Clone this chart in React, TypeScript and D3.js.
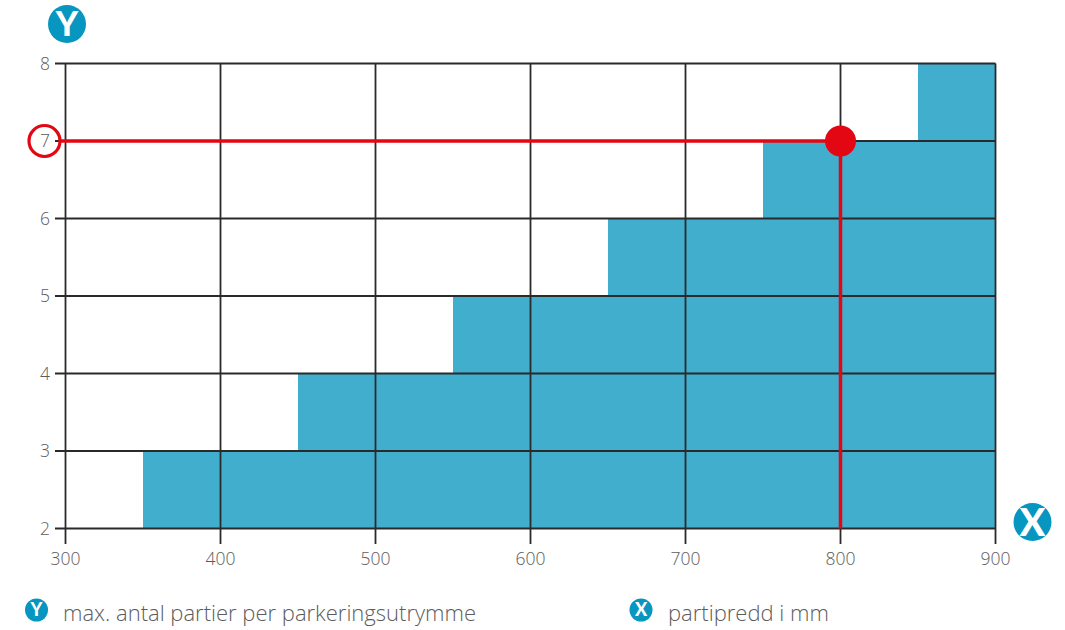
import React from "react";
import * as d3 from "d3";

const stepWidths = [350, 450, 550, 650, 750, 850, 900];
const stepCounts = [3, 4, 5, 6, 7, 8, 8];
const xTicks = [300, 400, 500, 600, 700, 800, 900];
const yTicks = [2, 3, 4, 5, 6, 7, 8];
const selectedX = 800;
const selectedY = 7;
const yLegend = "max. antal partier per parkeringsutrymme";
const xLegend = "partipredd i mm";

const FONT = "'Open Sans', sans-serif";
const BADGE_FONT = "Lato, sans-serif";
const BLUE = "#41AECE";
const BADGE = "#0796BF";
const RED = "#E30613";
const INK = "#2a2a2a";
const TEXT = "#5c5c5c";

const x = d3.scaleLinear().domain([300, 900]).range([65.5, 995.5]);
const y = d3.scaleLinear().domain([2, 8]).range([528.5, 63.5]);

function Badge({ cx, cy, r, label, size }: { cx: number; cy: number; r: number; label: string; size: number }) {
  return (
    <g>
      <circle cx={cx} cy={cy} r={r} fill={BADGE} />
      <text x={cx} y={cy + size * 0.36} textAnchor="middle" fontSize={size} fontWeight={900} fill="#fff" fontFamily={BADGE_FONT}>
        {label}
      </text>
    </g>
  );
}

export default function App() {
  const area = d3
    .area<number>()
    .x((_, i) => x(stepWidths[i]))
    .y0(y(2))
    .y1((d) => y(d))
    .curve(d3.curveStepAfter);

  return (
    <svg width={1065} height={630} style={{ position: "absolute", left: 0, top: 0, background: "#fff" }}>
      <path d={area(stepCounts) ?? ""} fill={BLUE} />
      {xTicks.map((t) => (
        <g key={t}>
          <line x1={x(t)} x2={x(t)} y1={y(8)} y2={544} stroke={INK} strokeWidth={1.8} />
          <text x={x(t)} y={565} textAnchor="middle" fontSize={17.5} fontWeight={300} fill={TEXT} fontFamily={FONT}>
            {t}
          </text>
        </g>
      ))}
      {yTicks.map((t) => (
        <g key={t}>
          <line x1={55} x2={x(900)} y1={y(t)} y2={y(t)} stroke={INK} strokeWidth={1.8} />
          <text x={50} y={y(t) + 6} textAnchor="end" fontSize={17.5} fontWeight={300} fill={TEXT} fontFamily={FONT}>
            {t}
          </text>
        </g>
      ))}
      <line x1={59} x2={x(selectedX)} y1={y(selectedY)} y2={y(selectedY)} stroke={RED} strokeWidth={3.5} />
      <line x1={x(selectedX)} x2={x(selectedX)} y1={y(selectedY)} y2={y(2)} stroke={RED} strokeWidth={3.5} />
      <circle cx={44.5} cy={y(selectedY)} r={15.5} fill="none" stroke={RED} strokeWidth={3.2} />
      <circle cx={x(selectedX)} cy={y(selectedY)} r={15.5} fill={RED} />
      <Badge cx={67} cy={24} r={19} label="Y" size={34} />
      <Badge cx={1032.5} cy={522} r={19} label="X" size={38} />
      <Badge cx={36.5} cy={610} r={11.5} label="Y" size={18} />
      <Badge cx={641} cy={610} r={11.5} label="X" size={18} />
      <text x={63} y={621} fontSize={22} fontWeight={300} fill={TEXT} fontFamily={FONT}>
        {yLegend}
      </text>
      <text x={668} y={621} fontSize={22} fontWeight={300} fill={TEXT} fontFamily={FONT}>
        {xLegend}
      </text>
    </svg>
  );
}
